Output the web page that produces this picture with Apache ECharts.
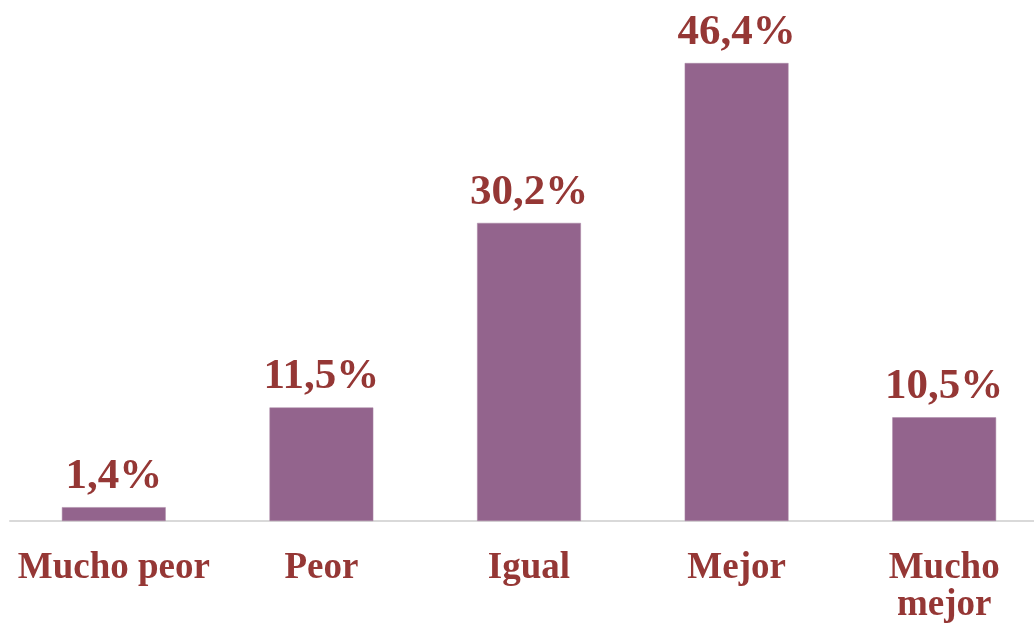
<!DOCTYPE html>
<html>
<head>
<meta charset="utf-8">
<script src="https://cdn.jsdelivr.net/npm/echarts@6/dist/echarts.min.js"></script>
<style>
  html, body { margin: 0; padding: 0; background: #fff; overflow: hidden; }
  /* chart is a bit wider than the window: the last category runs past the edge */
  #chart { width: 1048px; height: 628px; }
</style>
</head>
<body>
<div id="chart"></div>
<script>
  var categories = ['Mucho peor', 'Peor', 'Igual', 'Mejor', 'Mucho\nmejor'];
  var values = [1.4, 11.5, 30.2, 46.4, 10.5];

  var TEXT_COLOR = '#953735';
  var BAR_COLOR = '#93648d';
  var FONT = '"Liberation Serif", "Times New Roman", serif';

  var chart = echarts.init(document.getElementById('chart'));

  chart.setOption({
    backgroundColor: '#fff',
    animation: false,
    grid: { left: 10, right: 0, top: 27.5, bottom: 107, containLabel: false },
    xAxis: {
      type: 'category',
      data: categories,
      axisLine: { lineStyle: { color: '#d9d9d9', width: 2 } },
      axisTick: { show: false },
      axisLabel: {
        margin: 29,
        color: TEXT_COLOR,
        fontFamily: FONT,
        fontWeight: 'bold',
        fontSize: 37,
        lineHeight: 37,
        interval: 0
      }
    },
    yAxis: {
      type: 'value',
      min: 0,
      max: 50,
      show: false,
      splitLine: { show: false }
    },
    series: [{
      type: 'bar',
      data: values,
      barWidth: '50%',
      itemStyle: { color: BAR_COLOR, borderColor: '#a986a4', borderWidth: 0.5 },
      label: {
        show: true,
        position: 'top',
        distance: 9,
        color: TEXT_COLOR,
        fontFamily: FONT,
        fontWeight: 'bold',
        fontSize: 43,
        formatter: function (p) {
          return p.value.toFixed(1).replace('.', ',') + '%';
        }
      }
    }]
  });
</script>
</body>
</html>
